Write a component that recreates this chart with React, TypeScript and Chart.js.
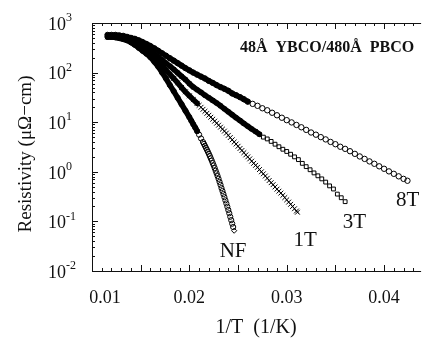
import React, { useEffect, useRef } from "react";
import { Chart, registerables } from "chart.js";

Chart.register(...registerables);

// ---------------- data (1/T in 1/K, resistivity in µΩ-cm) ----------------
const seriesNames = ["NF", "1T", "3T", "8T"];

const invT_NF = [
  0.0116, 0.012, 0.0124, 0.0128, 0.0132, 0.0136, 0.014, 0.0144, 0.0148, 0.0152, 0.0156,
  0.016, 0.0164, 0.0168, 0.0172, 0.0176, 0.018, 0.0184, 0.0188, 0.0192, 0.0196, 0.02,
  0.0202, 0.0204, 0.0206, 0.0208, 0.021, 0.0212, 0.0214,
  0.0215, 0.0216, 0.0217, 0.0218, 0.0219, 0.022, 0.0221, 0.0222, 0.0223, 0.0224, 0.0225,
  0.0226, 0.0227, 0.0228, 0.0229, 0.023, 0.0231, 0.0232, 0.0233, 0.0234, 0.0235, 0.0236,
  0.0237, 0.0238, 0.0239, 0.024, 0.0241, 0.0242, 0.0243, 0.0244, 0.0245, 0.0246,
];
const rho_NF = [
  525, 525, 513, 495, 473, 447, 407, 363, 316, 275, 240,
  204, 166, 132, 100, 76, 56, 42, 31, 23, 17, 12.6,
  10.7, 9.1, 7.8, 6.6, 5.6, 4.7, 3.98,
  3.65, 3.34, 3.05, 2.79, 2.54, 2.3, 2.08, 1.87, 1.68, 1.5, 1.34,
  1.19, 1.05, 0.93, 0.82, 0.72, 0.625, 0.545, 0.47, 0.41, 0.356, 0.308,
  0.266, 0.23, 0.198, 0.17, 0.146, 0.124, 0.106, 0.09, 0.077, 0.065,
];

const invT_1T = [
  0.0116, 0.012, 0.0124, 0.0128, 0.0132, 0.0136, 0.014, 0.0144, 0.0148, 0.0152, 0.0156,
  0.016, 0.0164, 0.0168, 0.0172, 0.0176, 0.018, 0.0184, 0.0188, 0.0192, 0.0196, 0.02,
  0.0204, 0.0208,
  0.021, 0.0212, 0.0214, 0.0216, 0.0218, 0.022, 0.0222, 0.0224, 0.0226, 0.0228, 0.023,
  0.0232, 0.0234, 0.0236, 0.0238, 0.024, 0.0242, 0.0244, 0.0246, 0.0248, 0.025,
  0.0252, 0.0254, 0.0256, 0.0258, 0.026, 0.0262, 0.0264, 0.0266, 0.0268, 0.027,
  0.0272, 0.0274, 0.0276, 0.0278, 0.028, 0.0282, 0.0284, 0.0286, 0.0288, 0.029,
  0.0292, 0.0294, 0.0296, 0.0298, 0.03, 0.0302, 0.0304, 0.0306, 0.0308, 0.031, 0.0311,
];
const rho_1T = [
  525, 525, 513, 501, 479, 457, 422, 380, 339, 295, 260,
  226, 195, 164, 136, 112, 92, 76, 62, 50, 41, 34,
  28.5, 24.0,
  21.9, 20.0, 18.2, 16.6, 15.1, 13.8, 12.6, 11.5, 10.5, 9.55, 8.7,
  7.94, 7.24, 6.61, 6.03, 5.43, 4.9, 4.42, 3.98, 3.63, 3.27,
  2.95, 2.69, 2.43, 2.19, 2.0, 1.82, 1.64, 1.48, 1.35, 1.23,
  1.11, 1.0, 0.912, 0.822, 0.741, 0.668, 0.603, 0.55, 0.495, 0.447,
  0.407, 0.372, 0.335, 0.302, 0.272, 0.245, 0.221, 0.2, 0.18, 0.162, 0.153,
];

const invT_3T = [
  0.0116, 0.012, 0.0124, 0.0128, 0.0132, 0.0136, 0.014, 0.0144, 0.0148, 0.0152, 0.0156,
  0.016, 0.0164, 0.0168, 0.0172, 0.0176, 0.018, 0.0184, 0.0188, 0.0192, 0.0196, 0.02,
  0.0204, 0.0208, 0.0212, 0.0216, 0.022, 0.0224, 0.0228, 0.0232, 0.0236, 0.024,
  0.0244, 0.0248, 0.0252, 0.0256, 0.026, 0.0264, 0.0268, 0.0272, 0.0276, 0.028,
  0.0284, 0.0288, 0.0292, 0.0296, 0.03, 0.0304, 0.0308, 0.0312, 0.0316, 0.032,
  0.0324, 0.0328, 0.0332, 0.0336, 0.034, 0.0344, 0.0348, 0.0352, 0.0356, 0.036,
];
const rho_3T = [
  550, 550, 537, 525, 501, 479, 447, 417, 380, 343, 305,
  269, 237, 207, 180, 155, 135, 116, 99, 84, 72, 60,
  51, 45, 40, 35, 31, 27.5, 24.3, 21.4, 18.6, 16.2,
  14.1, 12.3, 10.8, 9.4, 8.3, 7.3, 6.5, 5.7, 5.0, 4.6,
  4.1, 3.6, 3.2, 2.85, 2.57, 2.26, 2.0, 1.76, 1.48, 1.27,
  1.1, 0.95, 0.83, 0.72, 0.62, 0.52, 0.45, 0.355, 0.3, 0.25,
];

const invT_8T = [
  0.0116, 0.012, 0.0124, 0.0128, 0.0132, 0.0136, 0.014, 0.0144, 0.0148, 0.0152, 0.0156,
  0.016, 0.0164, 0.0168, 0.0172, 0.0176, 0.018, 0.0184, 0.0188, 0.0192, 0.0196, 0.02,
  0.0204, 0.0208, 0.0212, 0.0216, 0.022, 0.0224, 0.0228, 0.0232, 0.0236, 0.024,
  0.0244, 0.0248, 0.0252, 0.0256, 0.026,
  0.0265, 0.027, 0.0275, 0.028, 0.0285, 0.029, 0.0295, 0.03, 0.0305, 0.031,
  0.0315, 0.032, 0.0325, 0.033, 0.0335, 0.034, 0.0345, 0.035, 0.0355, 0.036,
  0.0365, 0.037, 0.0375, 0.038, 0.0385, 0.039, 0.0395, 0.04, 0.0405, 0.041,
  0.0415, 0.042, 0.0424,
];
const rho_8T = [
  575, 575, 575, 562, 550, 525, 501, 479, 447, 412, 376,
  343, 309, 275, 245, 219, 195, 174, 155, 138, 123, 111,
  100, 91, 83, 76, 68, 62, 56, 51, 47, 43,
  38, 35, 32, 29, 26,
  23.4, 21.4, 19.1, 17.4, 15.5, 13.8, 12.3, 11.0, 9.9, 8.8,
  7.9, 7.0, 6.2, 5.6, 5.0, 4.5, 4.0, 3.6, 3.2, 2.9,
  2.6, 2.3, 2.04, 1.82, 1.62, 1.45, 1.29, 1.15, 1.02, 0.91,
  0.81, 0.72, 0.66,
];

const xTickValues = [0.01, 0.02, 0.03, 0.04];
const xTickLabels = ["0.01", "0.02", "0.03", "0.04"];
const yTickValues = [1000, 100, 10, 1, 0.1, 0.01];
const yTickExponents = ["3", "2", "1", "0", "-1", "-2"];
const yTickBase = "10";

const xTitle = "1/T  (1/K)";
const yTitle = "Resistivity (\u03BC\u03A9\u2212cm)";
const chartTitle = "48\u00C5  YBCO/480\u00C5  PBCO";

// ---------------- styles / layout ----------------
const FONT = "'Liberation Serif', 'Times New Roman', serif";
const X_MIN = 0.01;
const X_MAX = 0.04375;
const xLabelShift = [13, 0, 0, 0];
// label anchors in data coordinates (1/T, rho)
const curveLabelAnchors = [
  [0.02449, 0.0242],
  [0.03189, 0.0422],
  [0.03696, 0.093],
  [0.04243, 0.27],
];
const solidUntil = [0.0208, 0.0208, 0.0274, 0.0262];
const pointStyles = ["circle", "crossRot", "rect", "circle"];
const pointRadii = [2.6, 3.4, 2.7, 2.7];

function build(xs: number[], ys: number[]) {
  return xs.map((x, i) => ({ x, y: ys[i] }));
}

const decorPlugin = {
  id: "decor",
  afterDraw(chart: any) {
    const { ctx, chartArea: a, scales } = chart;
    const xs = scales.x;
    const ys = scales.y;
    ctx.save();
    ctx.strokeStyle = "#111";
    ctx.lineWidth = 1;
    // frame
    ctx.beginPath();
    ctx.moveTo(a.left + 0.5, a.top + 0.5);
    ctx.lineTo(a.right + 0.5, a.top + 0.5);
    ctx.moveTo(a.left + 0.5, a.top + 0.5);
    ctx.lineTo(a.left + 0.5, a.bottom + 0.5);
    ctx.lineTo(a.right + 0.5, a.bottom + 0.5);
    ctx.stroke();
    // x ticks (inward, top and bottom)
    ctx.beginPath();
    for (let i = 0; i <= 40; i++) {
      const v = X_MIN + i * 0.001;
      if (v > X_MAX) break;
      const px = Math.round(xs.getPixelForValue(v)) + 0.5;
      const len = i % 5 === 0 ? 6 : 3;
      ctx.moveTo(px, a.bottom);
      ctx.lineTo(px, a.bottom - len);
      ctx.moveTo(px, a.top);
      ctx.lineTo(px, a.top + len);
    }
    // y ticks (inward, left)
    for (let e = -2; e <= 3; e++) {
      for (let m = 1; m <= 9; m++) {
        const v = m * Math.pow(10, e);
        if (v > 1000.0001) break;
        const py = Math.round(ys.getPixelForValue(v)) + 0.5;
        const len = m === 1 ? 6 : 3;
        ctx.moveTo(a.left, py);
        ctx.lineTo(a.left + len, py);
      }
    }
    ctx.stroke();

    ctx.fillStyle = "#111";
    // x tick labels
    ctx.font = `18px ${FONT}`;
    ctx.textAlign = "center";
    ctx.textBaseline = "middle";
    xTickValues.forEach((v, i) => {
      ctx.fillText(xTickLabels[i], xs.getPixelForValue(v) + xLabelShift[i], a.bottom + 27);
    });
    // y tick labels: 10 with superscript exponent
    yTickValues.forEach((v, i) => {
      const py = ys.getPixelForValue(v);
      ctx.textAlign = "left";
      ctx.font = `18px ${FONT}`;
      ctx.fillText(yTickBase, 48, py + 2);
      const w = ctx.measureText(yTickBase).width;
      ctx.font = `12px ${FONT}`;
      ctx.fillText(yTickExponents[i], 48 + w, py - 5);
    });
    // axis titles
    ctx.font = `20px ${FONT}`;
    ctx.textAlign = "center";
    ctx.fillText(xTitle, 256, 328);
    ctx.font = `19px ${FONT}`;
    ctx.save();
    ctx.translate(26, 154);
    ctx.rotate(-Math.PI / 2);
    ctx.fillText(yTitle, 0, 0);
    ctx.restore();
    // chart title
    ctx.font = `bold 16px ${FONT}`;
    ctx.textAlign = "left";
    ctx.fillText(chartTitle, 240, 48);
    // curve labels
    ctx.font = `21px ${FONT}`;
    ctx.textAlign = "center";
    seriesNames.forEach((name, i) => {
      const [lx, ly] = curveLabelAnchors[i];
      ctx.fillText(name, xs.getPixelForValue(lx), ys.getPixelForValue(ly));
    });
    ctx.restore();
  },
};

export default function App() {
  const ref = useRef<HTMLCanvasElement | null>(null);
  useEffect(() => {
    if (!ref.current) return;
    const sets = [
      build(invT_NF, rho_NF),
      build(invT_1T, rho_1T),
      build(invT_3T, rho_3T),
      build(invT_8T, rho_8T),
    ];
    const chart = new Chart(ref.current, {
      type: "line",
      data: {
        datasets: sets.map((d, i) => ({
          label: seriesNames[i],
          data: d,
          borderColor: "#000",
          borderWidth: 5.5,
          borderCapStyle: "round",
          borderJoinStyle: "round",
          tension: 0,
          segment: {
            borderColor: (c: any) => (c.p1.parsed.x <= solidUntil[i] ? "#000" : "rgba(0,0,0,0)"),
          },
          pointStyle: (c: any) =>
            i === 0 && c.dataIndex === d.length - 1 ? "rectRot" : pointStyles[i],
          pointRadius: pointRadii[i],
          pointBorderWidth: 1,
          pointBorderColor: "#000",
          pointBackgroundColor: "rgba(0,0,0,0)",
          pointHoverRadius: pointRadii[i],
        })),
      },
      options: {
        animation: false,
        responsive: true,
        maintainAspectRatio: false,
        devicePixelRatio: 1,
        layout: { padding: { left: 92, top: 23, right: 0, bottom: 71 } },
        plugins: { legend: { display: false }, tooltip: { enabled: false }, title: { display: false } },
        events: [],
        scales: {
          x: {
            type: "linear",
            min: X_MIN,
            max: X_MAX,
            ticks: { display: false },
            grid: { display: false, drawTicks: false },
            border: { display: false },
            title: { display: false },
          },
          y: {
            type: "logarithmic",
            min: 0.01,
            max: 1000,
            ticks: { display: false },
            grid: { display: false, drawTicks: false },
            border: { display: false },
            title: { display: false },
          },
        },
      },
      plugins: [decorPlugin],
    } as any);
    return () => chart.destroy();
  }, []);
  return (
    <div style={{ position: "absolute", left: 0, top: 0, width: 425, height: 342, background: "#fff" }}>
      <canvas ref={ref} />
    </div>
  );
}
